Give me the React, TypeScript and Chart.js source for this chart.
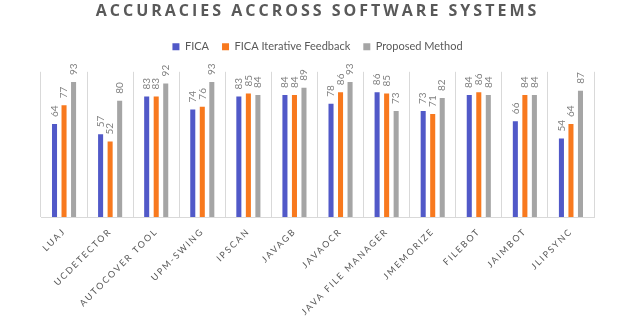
import React, { useEffect, useRef } from "react";
import { Chart, registerables } from "chart.js";

Chart.register(...registerables);

const categories = [
  "LUAJ",
  "UCDETECTOR",
  "AUTOCOVER TOOL",
  "UPM-SWING",
  "IPSCAN",
  "JAVAGB",
  "JAVAOCR",
  "JAVA FILE MANAGER",
  "JMEMORIZE",
  "FILEBOT",
  "JAIMBOT",
  "JLIPSYNC",
];
const ficaValues = [64, 57, 83, 74, 83, 84, 78, 86, 73, 84, 66, 54];
const iterativeValues = [77, 52, 83, 76, 85, 84, 86, 85, 71, 86, 84, 64];
const proposedValues = [93, 80, 92, 93, 84, 89, 93, 73, 82, 84, 84, 87];
const seriesNames = ["FICA", "FICA Iterative Feedback", "Proposed Method"];
const seriesColors = ["#5159C8", "#F8791E", "#A5A5A5"];
const titleText = "ACCURACIES ACCROSS SOFTWARE SYSTEMS";

const spacingPlugin = {
  id: "spacing",
  afterLayout(chart: any) {
    const wrap = (obj: any, method: string, spacing: string) => {
      if (!obj || obj["__w_" + method]) return;
      const orig = obj[method].bind(obj);
      obj[method] = (...args: any[]) => {
        const ctx = chart.ctx;
        const prev = ctx.letterSpacing;
        ctx.letterSpacing = spacing;
        orig(...args);
        ctx.letterSpacing = prev || "0px";
      };
      obj["__w_" + method] = true;
    };
    wrap(chart.titleBlock, "draw", "3px");
    wrap(chart.scales.x, "drawLabels", "1.8px");
  },
};

const valueLabelPlugin = {
  id: "valueLabels",
  afterDatasetsDraw(chart: any) {
    const ctx = chart.ctx;
    ctx.save();
    ctx.font = "10px Lato";
    ctx.fillStyle = "#7F7F7F";
    ctx.textAlign = "left";
    ctx.textBaseline = "middle";
    chart.data.datasets.forEach((ds: any, di: number) => {
      const meta = chart.getDatasetMeta(di);
      meta.data.forEach((bar: any, i: number) => {
        ctx.save();
        ctx.translate(bar.x, bar.y - 7);
        ctx.rotate(-Math.PI / 2);
        ctx.fillText(String(ds.data[i]), 0, 0);
        ctx.restore();
      });
    });
    ctx.restore();
  },
};

export default function App() {
  const ref = useRef<HTMLCanvasElement>(null);
  useEffect(() => {
    if (!ref.current) return;
    const chart = new Chart(ref.current, {
      type: "bar",
      data: {
        labels: categories,
        datasets: [ficaValues, iterativeValues, proposedValues].map((d, i) => ({
          label: seriesNames[i],
          data: d,
          backgroundColor: seriesColors[i],
          borderWidth: 0,
          categoryPercentage: 0.62,
          barPercentage: 0.53,
        })),
      },
      options: {
        responsive: false,
        animation: false,
        layout: { padding: { left: 41, right: 37, top: 0, bottom: 0 } },
        plugins: {
          title: {
            display: true,
            text: titleText,
            color: "#595959",
            font: { family: "'Open Sans'", size: 16, weight: "bold" },
            padding: { top: 2, bottom: 7 },
          },
          subtitle: {
            display: true,
            text: "",
            weight: 500,
            padding: 0,
            font: { size: 8 },
          } as any,
          legend: {
            display: true,
            labels: {
              boxWidth: 7,
              boxHeight: 7,
              color: "#595959",
              font: { family: "Lato", size: 11 },
              padding: 13,
            },
          },
          tooltip: { enabled: false },
        },
        scales: {
          x: {
            grid: {
              display: true,
              color: "#D9D9D9",
              drawTicks: false,
              offset: true,
            },
            border: { display: true, color: "#D9D9D9" },
            ticks: {
              minRotation: 45,
              maxRotation: 45,
              autoSkip: false,
              color: "#595959",
              padding: 9,
              font: { family: "Lato", size: 9 },
            },
            afterFit: (scale: any) => {
              scale.height = 106;
            },
          },
          y: {
            display: false,
            min: 0,
            max: 100,
          },
        },
      },
      plugins: [spacingPlugin, valueLabelPlugin],
    });
    return () => chart.destroy();
  }, []);
  return (
    <div style={{ position: "fixed", left: 0, top: 0, width: 631, height: 323, background: "#fff" }}>
      <canvas ref={ref} width={631} height={323} style={{ display: "block" }} />
    </div>
  );
}
